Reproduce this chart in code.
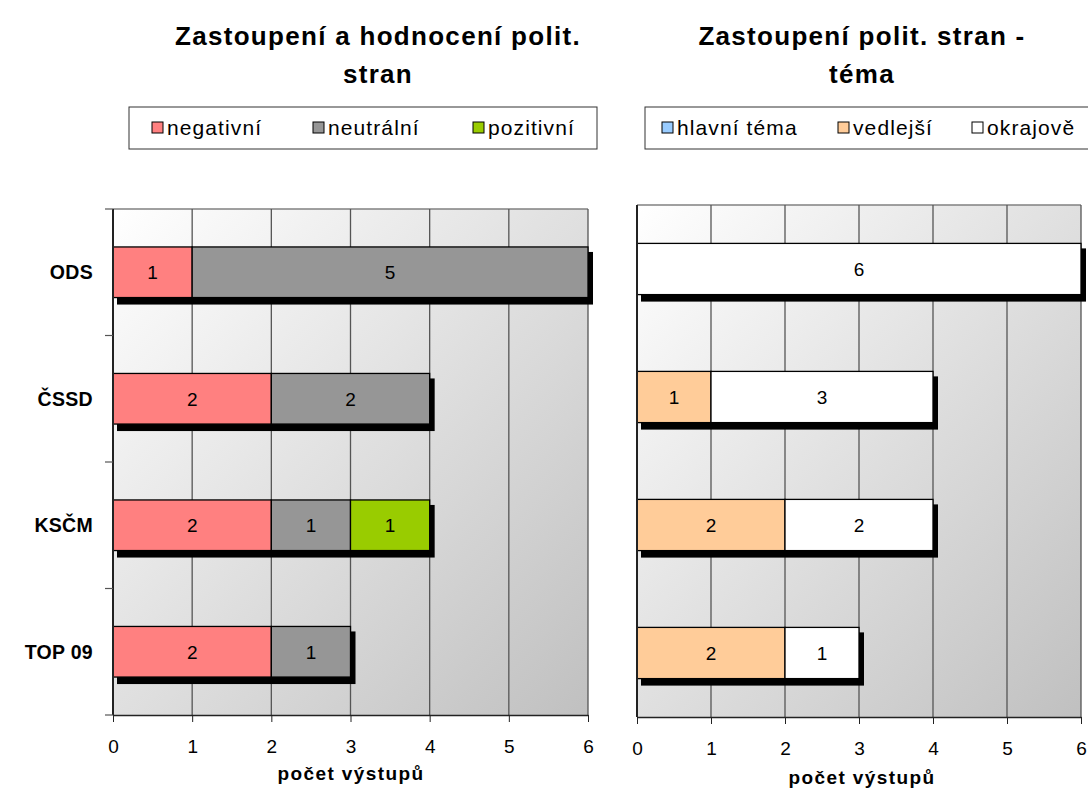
<!DOCTYPE html>
<html>
<head>
<meta charset="utf-8">
<script src="https://cdn.jsdelivr.net/npm/d3@7"></script>
<style>
  body { margin: 0; background: #fff; }
  text { font-family: "Liberation Sans", Arial, sans-serif; }
</style>
</head>
<body>
<div id="chart"></div>
<script>
const categories = ['ODS', 'ČSSD', 'KSČM', 'TOP 09'];
const xTicks = [0, 1, 2, 3, 4, 5, 6];

// left chart: hodnocení
const negativni = [1, 2, 2, 2];
const neutralni = [5, 2, 1, 1];
const pozitivni = [0, 0, 1, 0];

// right chart: téma
const hlavni = [0, 0, 0, 0];
const vedlejsi = [0, 1, 2, 2];
const okrajove = [6, 3, 2, 1];

const svg = d3
  .select('#chart')
  .append('svg')
  .attr('width', 1088)
  .attr('height', 803);

const defs = svg.append('defs');
const grad = defs
  .append('linearGradient')
  .attr('id', 'bg')
  .attr('x1', 0)
  .attr('y1', 0)
  .attr('x2', 1)
  .attr('y2', 1);
grad.append('stop').attr('offset', 0).attr('stop-color', '#ffffff');
grad.append('stop').attr('offset', 1).attr('stop-color', '#c0c0c0');

function drawChart(opts) {
  const x = d3
    .scaleLinear()
    .domain([0, 6])
    .range([opts.left, opts.right]);

  const y = d3
    .scaleBand()
    .domain(categories)
    .range([opts.top, opts.bottom])
    .paddingInner(0.6)
    .paddingOuter(0.3);

  const g = svg.append('g');

  // title
  g.selectAll('.title')
    .data(opts.title)
    .enter()
    .append('text')
    .attr('x', opts.titleX)
    .attr('y', function(d, i) {
      return 45 + i * 38;
    })
    .attr('text-anchor', 'middle')
    .attr('font-size', 26)
    .attr('letter-spacing', 1.3)
    .attr('font-weight', 'bold')
    .text(function(d) {
      return d;
    });

  // legend
  const lg = g.append('g');
  lg.append('rect')
    .attr('x', opts.legend.x)
    .attr('y', 107)
    .attr('width', opts.legend.w)
    .attr('height', 42)
    .attr('fill', '#fff')
    .attr('stroke', '#333')
    .attr('stroke-width', 1);
  opts.series.forEach(function(s, i) {
    const lx = opts.legend.items[i];
    lg.append('rect')
      .attr('x', lx)
      .attr('y', 122)
      .attr('width', 11)
      .attr('height', 11)
      .attr('fill', s.color)
      .attr('stroke', '#000')
      .attr('stroke-width', 1);
    lg.append('text')
      .attr('x', lx + 15)
      .attr('y', 135)
      .attr('font-size', 21)
      .attr('letter-spacing', 1.1)
      .text(s.name);
  });

  // plot background
  g.append('rect')
    .attr('x', opts.left)
    .attr('y', opts.top)
    .attr('width', opts.right - opts.left)
    .attr('height', opts.bottom - opts.top)
    .attr('fill', 'url(#bg)');

  g.append('line')
    .attr('x1', opts.left)
    .attr('x2', opts.right)
    .attr('y1', opts.top)
    .attr('y2', opts.top)
    .attr('stroke', '#808080')
    .attr('stroke-width', 1.5);

  // gridlines
  g.selectAll('.grid')
    .data(xTicks.slice(1))
    .enter()
    .append('line')
    .attr('x1', function(d) {
      return x(d);
    })
    .attr('x2', function(d) {
      return x(d);
    })
    .attr('y1', opts.top)
    .attr('y2', opts.bottom)
    .attr('stroke', '#555')
    .attr('stroke-width', 1.3);

  // stacked bars
  const stack = d3.stack().keys(d3.range(opts.series.length));
  const rows = categories.map(function(c, i) {
    const row = { cat: c };
    opts.series.forEach(function(s, k) {
      row[k] = s.values[i];
    });
    return row;
  });
  const layers = stack(rows);

  // shadows
  g.selectAll('.shadow')
    .data(rows)
    .enter()
    .append('rect')
    .attr('x', x(0) + 4)
    .attr('y', function(d) {
      return y(d.cat) + 5;
    })
    .attr('width', function(d) {
      const total = d3.sum(opts.series, function(s, k) {
        return d[k];
      });
      return x(total) - x(0) + 1;
    })
    .attr('height', y.bandwidth() + 2)
    .attr('fill', '#000');

  layers.forEach(function(layer, k) {
    const s = opts.series[k];
    const seg = g
      .selectAll('.seg' + k)
      .data(
        layer.filter(function(d) {
          return d[1] - d[0] > 0;
        })
      )
      .enter()
      .append('g');
    seg
      .append('rect')
      .attr('x', function(d) {
        return x(d[0]);
      })
      .attr('y', function(d) {
        return y(d.data.cat);
      })
      .attr('width', function(d) {
        return x(d[1]) - x(d[0]);
      })
      .attr('height', y.bandwidth())
      .attr('fill', s.color)
      .attr('stroke', '#000')
      .attr('stroke-width', 1.3);
    seg
      .append('text')
      .attr('x', function(d) {
        return (x(d[0]) + x(d[1])) / 2;
      })
      .attr('y', function(d) {
        return y(d.data.cat) + y.bandwidth() / 2 + 7;
      })
      .attr('text-anchor', 'middle')
      .attr('font-size', 19)
      .text(function(d) {
        return d[1] - d[0];
      });
  });

  // x axis
  const xAxis = g
    .append('g')
    .attr('transform', `translate(0,${opts.bottom})`)
    .call(
      d3
        .axisBottom(x)
        .tickValues(xTicks)
        .tickFormat(d3.format('d'))
        .tickSize(7)
        .tickPadding(18)
        .tickSizeOuter(0)
    );
  xAxis.select('.domain').attr('stroke', '#222').attr('stroke-width', 1.5);
  xAxis.selectAll('.tick line').attr('stroke', '#222');
  xAxis
    .selectAll('.tick text')
    .attr('font-size', 19)
    .attr('font-family', '"Liberation Sans", Arial, sans-serif')
    .attr('fill', '#000');

  // y axis
  g.append('line')
    .attr('x1', opts.left)
    .attr('x2', opts.left)
    .attr('y1', opts.top)
    .attr('y2', opts.bottom)
    .attr('stroke', '#222')
    .attr('stroke-width', 2);

  if (opts.yTicks) {
    const bandStep = (opts.bottom - opts.top) / categories.length;
    g.selectAll('.ytick')
      .data(d3.range(categories.length + 1))
      .enter()
      .append('line')
      .attr('x1', opts.left - 8)
      .attr('x2', opts.left)
      .attr('y1', function(d) {
        return opts.top + d * bandStep;
      })
      .attr('y2', function(d) {
        return opts.top + d * bandStep;
      })
      .attr('stroke', '#555')
      .attr('stroke-width', 1.2);
  }

  g.selectAll('.cat')
    .data(opts.labels ? categories : [])
    .enter()
    .append('text')
    .attr('x', opts.left - 20)
    .attr('y', function(d) {
      return y(d) + y.bandwidth() / 2 + 7;
    })
    .attr('text-anchor', 'end')
    .attr('font-size', 19.5)
    .attr('letter-spacing', 0.3)
    .attr('font-weight', 'bold')
    .text(function(d) {
      return d;
    });

  // axis title
  g.append('text')
    .attr('x', opts.axisTitleX)
    .attr('y', opts.axisTitleY)
    .attr('text-anchor', 'middle')
    .attr('font-size', 19)
    .attr('letter-spacing', 1.4)
    .attr('font-weight', 'bold')
    .text('počet výstupů');
}

drawChart({
  left: 113,
  right: 588,
  top: 209,
  bottom: 715,
  title: ['Zastoupení a hodnocení polit.', 'stran'],
  titleX: 378,
  legend: { x: 129, w: 468, items: [152, 313, 473] },
  series: [
    { name: 'negativní', color: '#ff8080', values: negativni },
    { name: 'neutrální', color: '#969696', values: neutralni },
    { name: 'pozitivní', color: '#99cc00', values: pozitivni }
  ],
  yTicks: true,
  labels: true,
  axisTitleX: 351,
  axisTitleY: 780
});

drawChart({
  left: 637,
  right: 1081,
  top: 205,
  bottom: 717,
  title: ['Zastoupení polit. stran -', 'téma'],
  titleX: 862,
  legend: { x: 645, w: 460, items: [662, 838, 972] },
  series: [
    { name: 'hlavní téma', color: '#99ccff', values: hlavni },
    { name: 'vedlejší', color: '#ffcc99', values: vedlejsi },
    { name: 'okrajově', color: '#ffffff', values: okrajove }
  ],
  yTicks: false,
  labels: false,
  axisTitleX: 862,
  axisTitleY: 784
});
</script>
</body>
</html>
